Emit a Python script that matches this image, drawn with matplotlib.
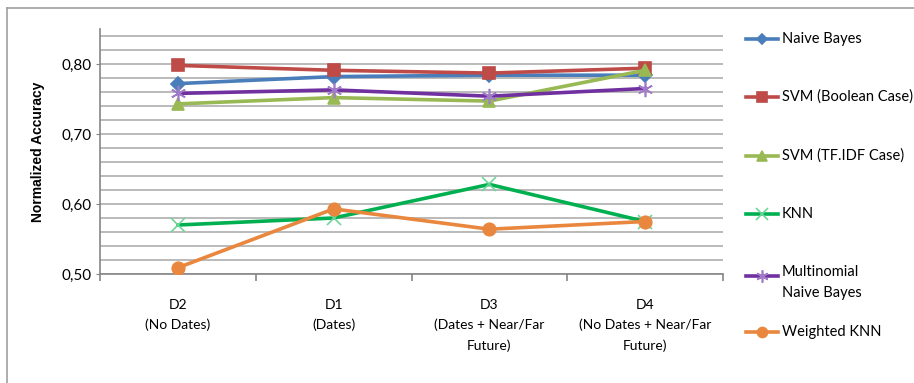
import matplotlib
matplotlib.use("Agg")
import matplotlib.pyplot as plt
from matplotlib.lines import Line2D
from matplotlib.ticker import MultipleLocator, FixedLocator

plt.rcParams['font.family'] = ['Lato', 'DejaVu Sans']

categories = ["D2\n(No Dates)", "D1\n(Dates)", "D3\n(Dates + Near/Far\nFuture)",
              "D4\n(No Dates + Near/Far\nFuture)"]

naive_bayes = [0.772, 0.782, 0.784, 0.784]
svm_boolean = [0.798, 0.791, 0.787, 0.794]
svm_tfidf = [0.743, 0.752, 0.747, 0.791]
knn = [0.570, 0.580, 0.628, 0.575]
multinomial_nb = [0.758, 0.763, 0.754, 0.765]
weighted_knn = [0.509, 0.593, 0.564, 0.575]

series = [
    ("Naive Bayes", naive_bayes, "#4a7ebb", "D", "#4a7ebb", 7),
    ("SVM (Boolean Case)", svm_boolean, "#be4b48", "s", "#be4b48", 9),
    ("SVM (TF.IDF Case)", svm_tfidf, "#98b954", "^", "#98b954", 9),
    ("KNN", knn, "#00b050", "x", "#6fd69a", 10),
    ("Multinomial\nNaive Bayes", multinomial_nb, "#7030a0", (6, 2, 0), "#a07cc8", 11),
    ("Weighted KNN", weighted_knn, "#e9873e", "o", "#e9873e", 9),
]

fig = plt.figure(figsize=(9.14, 3.83), dpi=100)
ax = fig.add_axes([100 / 914, 1 - 274 / 383, 623 / 914, 245 / 383])

x = list(range(len(categories)))
for name, vals, col, mk, mcol, ms in series:
    ax.plot(x, vals, color=col, lw=2.6, marker=mk, markersize=ms,
            markerfacecolor=mcol, markeredgecolor=mcol, markeredgewidth=1.2,
            zorder=3)

ax.set_xlim(-0.5, 3.5)
ax.set_ylim(0.50, 0.85)
ax.yaxis.set_major_locator(FixedLocator([0.50, 0.60, 0.70, 0.80]))
ax.yaxis.set_major_formatter(lambda v, p: f"{v:.2f}".replace(".", ","))
ax.yaxis.set_minor_locator(MultipleLocator(0.02))
ax.grid(axis="y", which="both", color="#b4b4b4", lw=1.3, zorder=0)
ax.tick_params(axis="y", which="major", length=3, color="#868686",
               labelsize=11, pad=3)
ax.tick_params(axis="y", which="minor", length=0)

ax.set_xticks(x)
ax.set_xticklabels(categories, fontsize=10, linespacing=1.75)
ax.xaxis.set_minor_locator(FixedLocator([-0.5, 0.5, 1.5, 2.5, 3.5]))
ax.tick_params(axis="x", which="major", length=0, pad=18)
ax.tick_params(axis="x", which="minor", length=5, color="#868686", width=1.2)

for side in ["top", "right"]:
    ax.spines[side].set_visible(False)
for side in ["left", "bottom"]:
    ax.spines[side].set_color("#868686")
    ax.spines[side].set_linewidth(1.2)

ax.set_ylabel("Normalized Accuracy", fontsize=10, fontweight="bold",
              family="Liberation Sans", labelpad=12)

# legend drawn by hand so the two-line entry sits like the original
leg_y = [39, 97, 156, 214, 276, 332]
for (name, vals, col, mk, mcol, ms), yp in zip(series, leg_y):
    yf = 1 - yp / 383
    fig.add_artist(Line2D([746 / 914, 778 / 914], [yf, yf], color=col, lw=2.6,
                          transform=fig.transFigure))
    fig.add_artist(Line2D([762 / 914], [yf], marker=mk, markersize=ms * 0.8,
                          markerfacecolor=mcol, markeredgecolor=mcol,
                          markeredgewidth=1.2, transform=fig.transFigure))
    if "\n" in name:
        fig.text(782 / 914, 1 - 265 / 383, name, fontsize=10.5, va="top",
                 linespacing=1.65)
    else:
        fig.text(782 / 914, yf, name, fontsize=10.5, va="center")

# outer chart frame
fig.add_artist(Line2D([7 / 914, 1], [1 - 8 / 383, 1 - 8 / 383], color="#a0a0a0",
                      lw=1.2, transform=fig.transFigure))
fig.add_artist(Line2D([7 / 914, 7 / 914], [0, 1 - 8 / 383], color="#a0a0a0",
                      lw=1.2, transform=fig.transFigure))

fig.savefig("out.png", dpi=100)
